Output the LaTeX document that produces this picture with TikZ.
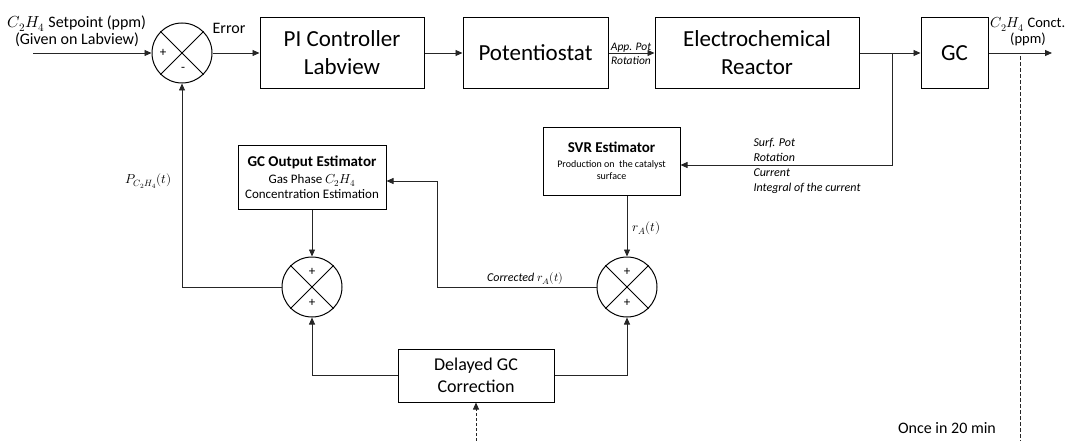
\documentclass[tikz,border=0pt]{standalone}
\usepackage{fontspec}
\usepackage{unicode-math}
\setmainfont{Carlito}
\setmathfont{Latin Modern Math}
\usetikzlibrary{arrows.meta,calc}
\begin{document}
\begin{tikzpicture}[x=1pt,y=-1pt,
  box/.style={draw, line width=1pt, rectangle, inner sep=0pt, align=center},
  sumj/.style={draw, line width=1pt, circle, minimum size=60pt, inner sep=0pt},
  ln/.style={line width=0.8pt, black!85},
  arr/.style={ln, -{Triangle[length=7pt,width=6pt]}},
  big/.style={font=\fontsize{23}{28}\selectfont},
  mid/.style={font=\fontsize{18}{22}\selectfont},
  lab/.style={font=\fontsize{16}{17}\selectfont, align=center},
  itl/.style={font=\fontsize{12}{15}\selectfont\itshape, align=left},
  sgn/.style={font=\fontsize{13}{13}\selectfont, inner sep=0pt}
]
\useasboundingbox (0,0) rectangle (1075,441);

% top row
\node[sumj] (s1) at (182,53) {};
\draw[line width=1pt] (s1.north east) -- (s1.south west) (s1.north west) -- (s1.south east);
\node[sgn] (s1p) at (163,53) {+};
\node[sgn] (s1m) at (183,69) {-};

\node[box, big, minimum width=164pt, minimum height=71pt] (pi) at (342,53) {PI Controller\\Labview};
\node[box, big, minimum width=145pt, minimum height=71pt] (pot) at (535.5,53) {Potentiostat};
\node[box, big, minimum width=204pt, minimum height=71pt] (reac) at (757,53) {Electrochemical\\Reactor};
\node[box, big, minimum width=67pt, minimum height=71pt] (gc) at (954.5,53) {GC};

\coordinate (in) at (33,53);
\coordinate (out) at (1052,53);
\coordinate (br) at (892,53);
\coordinate (dtop) at (1020,56);
\coordinate (dbot) at (1020,441);
\coordinate (delin) at (476,441);

\node[lab] (spl) at (77,31) {$C_2H_4$ Setpoint (ppm)\\(Given on Labview)};
\node[lab] (err) at (229,28) {Error};
\node[font=\fontsize{14.5}{16}\selectfont, align=center] (conc) at (1028,32) {$C_2H_4$ Conct.\\(ppm)};
\node[font=\fontsize{11.5}{14}\selectfont\itshape, align=center] (app) at (631,54) {App. Pot\\Rotation};

\draw[arr] (in) -- (s1.west);
\draw[arr] (s1.east) -- (pi.west);
\draw[arr] (pi.east) -- (pot.west);
\draw[arr] (pot.east) -- (reac.west);
\draw[arr] (reac.east) -- (gc.west);
\draw[arr] (gc.east) -- (out);
\draw[ln, dash pattern=on 4pt off 2pt] (dtop) -- (dbot);

% estimators
\node[box, minimum width=137pt, minimum height=68pt, font=\fontsize{10}{12}\selectfont] (svr) at (611.5,161)
  {{\fontsize{15}{17}\selectfont\bfseries SVR Estimator}\\[3pt]
   Production on\ \ the catalyst\\
   surface};
\node[box, minimum width=148pt, minimum height=64pt, font=\fontsize{13}{15}\selectfont] (gce) at (312,177)
  {{\fontsize{15}{17}\selectfont\bfseries GC Output Estimator}\\[2pt]
   Gas Phase $C_2H_4$\\
   Concentration Estimation};

\draw[arr] (br) |- ($(svr.east)+(0,4)$);
\node[itl] (sig) at (750,165.5) [anchor=west] {Surf. Pot\\Rotation\\Current\\Integral of the current};

% lower sums
\node[sumj] (s2) at (312,287) {};
\draw[line width=1pt] (s2.north east) -- (s2.south west) (s2.north west) -- (s2.south east);
\node[sgn] (s2a) at (312,272) {+};
\node[sgn] (s2b) at (312,303) {+};
\node[sumj] (s3) at (627,287) {};
\draw[line width=1pt] (s3.north east) -- (s3.south west) (s3.north west) -- (s3.south east);
\node[sgn] (s3a) at (627,272) {+};
\node[sgn] (s3b) at (627,303) {+};

\node[box, mid, minimum width=156pt, minimum height=53pt] (del) at (476,375.5) {Delayed GC\\Correction};

\draw[arr] (svr.south -| s3.north) -- (s3.north);
\node[font=\fontsize{13}{13}\selectfont, anchor=west] (ra) at (629,228) {$r_A(t)$};
\draw[arr] (gce.south) -- (s2.north);
\draw[arr] (s2.west) -| (s1.south);
\node[font=\fontsize{13}{13}\selectfont, anchor=east] (pc) at (175,181) {$P_{C_2H_4}(t)$};
\draw[arr] (s3.west) -- ++(-159,0) |- ($(gce.east)+(0,4)$);
\node[font=\fontsize{12}{12}\selectfont, anchor=south west, inner sep=1pt] (cor) at (486,286) {\textit{Corrected} $r_A(t)$};
\draw[arr] (del.west) -| (s2.south);
\draw[arr] (del.east) -| (s3.south);
\draw[ln, dash pattern=on 3pt off 2pt, -{Triangle[length=7pt,width=6pt]}] (delin) -- (del.south);
\node[font=\fontsize{16}{16}\selectfont] (once) at (947,428) {Once in 20 min};
\end{tikzpicture}
\end{document}
